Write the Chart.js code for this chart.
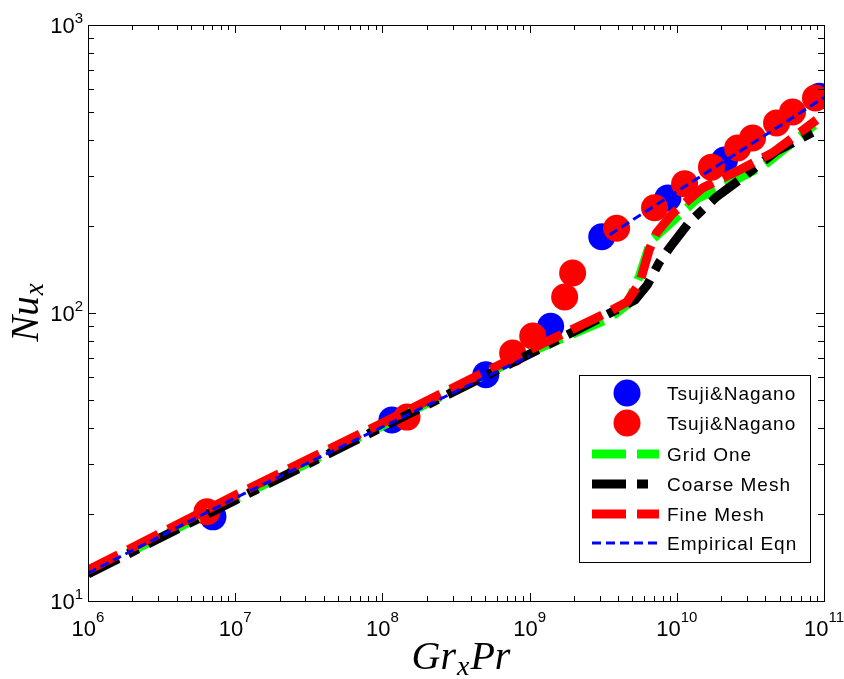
<!DOCTYPE html>
<html>
<head>
<meta charset="utf-8">
<script src="https://cdn.jsdelivr.net/npm/chart.js@4.4.1/dist/chart.umd.min.js"></script>
<style>
body{margin:0;background:#fff;}
#wrap{width:844px;height:679px;}
</style>
</head>
<body>
<div id="wrap"><canvas id="nuChart" width="844" height="679"></canvas></div>
<script>
// data
var expBlueX = [7.06e6, 1.16e8, 5.04e8, 1.39e9, 3.09e9, 8.7e9, 2.11e10, 9.3e10];
var expBlueY = [19.6, 42.5, 61, 90, 184, 251, 340, 566];

var expRedX = [6.43e6, 1.47e8, 7.67e8, 1.05e9, 1.73e9, 1.96e9, 3.9e9, 7.06e9, 1.13e10, 1.72e10, 2.59e10, 3.27e10, 4.76e10, 6.11e10, 8.75e10];
var expRedY = [20.4, 43.5, 72.6, 83.2, 113.7, 137.7, 197, 232, 281, 321, 374, 405, 457, 499, 558];

var gridOneX = [1e6, 1e7, 1e8, 1e9, 3.5e9, 4.6e9, 5.6e9, 6.7e9, 8.3e9, 1.38e10, 2.1e10, 3.94e10, 8.6e10];
var gridOneY = [12.5, 22.6, 40.6, 73, 96, 107, 135, 179, 197, 250, 276, 327, 450];

var coarseX = [1e6, 1e7, 1e8, 1e9, 3.8e9, 5.2e9, 6.3e9, 7.6e9, 8.9e9, 1.22e10, 1.86e10, 2.67e10, 4.76e10, 9e10];
var coarseY = [12.4, 22.4, 40.2, 72, 102, 111, 125, 150, 168, 207, 253, 290, 365, 432];

var fineX = [1e6, 1e7, 1e8, 1e9, 3.33e9, 4.56e9, 5.6e9, 6.5e9, 7.3e9, 9.4e9, 1.5e10, 2.67e10, 4.47e10, 8.9e10];
var fineY = [12.8, 23.3, 41.5, 74.5, 100, 109, 127, 166, 190, 222, 272, 314, 360, 468];

// empirical eqn: laminar part, break, turbulent part
var empX = [1e6, 1e7, 1e8, 1e9, 2e9, 3.5e9, 1e10, 1e11];
var empY = [12.5, 22.8, 40.2, 71, null, 187, 264, 560];

var xDecades = [6, 7, 8, 9, 10, 11];
var yDecades = [1, 2, 3];
var seriesNames = ["Tsuji&Nagano", "Tsuji&Nagano", "Grid One", "Coarse Mesh", "Fine Mesh", "Empirical Eqn"];

function toPoints(xs, ys) {
    var pts = [];
    for (var i = 0; i < xs.length; i++) {
        pts.push({x: xs[i], y: ys[i]});
    }
    return pts;
}

var FONT = "'Liberation Sans', Arial, sans-serif";
var SERIF = "'Liberation Serif', 'Times New Roman', serif";

// ticks, labels, box, titles, legend
var decoPlugin = {
    id: "deco",
    afterDraw: function (chart) {
        var ctx = chart.ctx;
        var a = chart.chartArea;
        var sx = chart.scales.x, sy = chart.scales.y;
        ctx.save();
        ctx.strokeStyle = "#000";
        ctx.lineWidth = 1;
        ctx.beginPath();
        var d, m, p, len;
        for (d = 6; d <= 10; d++) {
            for (m = 1; m <= 9; m++) {
                p = Math.round(sx.getPixelForValue(m * Math.pow(10, d))) + 0.5;
                len = m == 1 ? 8 : 5;
                ctx.moveTo(p, a.bottom); ctx.lineTo(p, a.bottom - len);
                ctx.moveTo(p, a.top); ctx.lineTo(p, a.top + len);
            }
        }
        for (d = 1; d <= 2; d++) {
            for (m = 1; m <= 9; m++) {
                p = Math.round(sy.getPixelForValue(m * Math.pow(10, d))) + 0.5;
                len = m == 1 ? 8 : 6;
                ctx.moveTo(a.left, p); ctx.lineTo(a.left + len, p);
                ctx.moveTo(a.right, p); ctx.lineTo(a.right - len, p);
            }
        }
        ctx.stroke();
        ctx.strokeRect(Math.round(a.left) + 0.5, Math.round(a.top) + 0.5, Math.round(a.right - a.left), Math.round(a.bottom - a.top));

        // tick labels 10^n
        ctx.fillStyle = "#000";
        ctx.textBaseline = "alphabetic";
        ctx.textAlign = "left";
        xDecades.forEach(function (n) {
            var px = sx.getPixelForValue(Math.pow(10, n));
            ctx.font = "22px " + FONT;
            var w1 = ctx.measureText("10").width;
            ctx.font = "15px " + FONT;
            var w2 = ctx.measureText(String(n)).width;
            var x0 = px - (w1 + w2) / 2;
            ctx.font = "22px " + FONT;
            ctx.fillText("10", x0, 636);
            ctx.font = "15px " + FONT;
            ctx.fillText(String(n), x0 + w1, 622);
        });
        yDecades.forEach(function (n) {
            var py = sy.getPixelForValue(Math.pow(10, n));
            ctx.font = "15px " + FONT;
            var w2 = ctx.measureText(String(n)).width;
            ctx.font = "22px " + FONT;
            var w1 = ctx.measureText("10").width;
            var x0 = 83 - w1 - w2;
            ctx.fillText("10", x0, py + 8);
            ctx.font = "15px " + FONT;
            ctx.fillText(String(n), x0 + w1, py - 2);
        });

        // axis titles
        ctx.font = "italic 40px " + SERIF;
        var gw = ctx.measureText("Gr").width;
        var pw = ctx.measureText("Pr").width;
        ctx.font = "italic 28px " + SERIF;
        var xw = ctx.measureText("x").width;
        var tx = 460 - (gw + xw + pw) / 2;
        ctx.font = "italic 40px " + SERIF;
        ctx.fillText("Gr", tx, 669);
        ctx.fillText("Pr", tx + gw + xw + 2, 669);
        ctx.font = "italic 28px " + SERIF;
        ctx.fillText("x", tx + gw + 1, 675);

        ctx.save();
        ctx.translate(38, 313);
        ctx.rotate(-Math.PI / 2);
        ctx.font = "italic 39px " + SERIF;
        var nw = ctx.measureText("Nu").width;
        ctx.font = "italic 27px " + SERIF;
        var xw2 = ctx.measureText("x").width;
        var ny = -(nw + xw2) / 2;
        ctx.font = "italic 39px " + SERIF;
        ctx.fillText("Nu", ny, 0);
        ctx.font = "italic 27px " + SERIF;
        ctx.fillText("x", ny + nw + 1, 5);
        ctx.restore();

        // legend box
        ctx.fillStyle = "#fff";
        ctx.fillRect(579, 375, 231, 187);
        ctx.strokeStyle = "#000";
        ctx.lineWidth = 1;
        ctx.strokeRect(579.5, 375.5, 231, 187);
        var rowY = [393, 423, 454, 484, 514, 543];
        chart.data.datasets.forEach(function (ds, i) {
            var y = rowY[i];
            if (ds.showLine) {
                ctx.save();
                ctx.strokeStyle = ds.borderColor;
                ctx.lineWidth = ds.borderWidth;
                ctx.setLineDash(ds.borderDash);
                ctx.lineCap = "butt";
                ctx.beginPath();
                ctx.moveTo(592, y);
                ctx.lineTo(659, y);
                ctx.stroke();
                ctx.restore();
            } else {
                ctx.fillStyle = ds.backgroundColor;
                ctx.beginPath();
                ctx.arc(627, y, 13.5, 0, Math.PI * 2);
                ctx.fill();
            }
            ctx.fillStyle = "#000";
            ctx.font = "19px " + FONT;
            ctx.letterSpacing = "1px";
            ctx.textBaseline = "middle";
            ctx.fillText(seriesNames[i], 667, y + 2);
            ctx.letterSpacing = "0px";
            ctx.textBaseline = "alphabetic";
        });
        ctx.restore();
    }
};

var whiteBg = {
    id: "whiteBg",
    beforeDraw: function (chart) {
        var ctx = chart.ctx;
        ctx.save();
        ctx.fillStyle = "#fff";
        ctx.fillRect(0, 0, chart.width, chart.height);
        ctx.restore();
    }
};

function lineSet(label, xs, ys, color, width, dash, order) {
    return {
        label: label,
        data: toPoints(xs, ys),
        showLine: true,
        borderColor: color,
        backgroundColor: color,
        borderWidth: width,
        borderDash: dash,
        borderCapStyle: "butt",
        borderJoinStyle: "miter",
        pointRadius: 0,
        tension: 0,
        spanGaps: false,
        clip: 0,
        order: order
    };
}

function dotSet(label, xs, ys, color, order) {
    return {
        label: label,
        data: toPoints(xs, ys),
        showLine: false,
        backgroundColor: color,
        borderColor: color,
        borderWidth: 0,
        pointRadius: 13.5,
        clip: 0,
        order: order
    };
}

var nuChart = new Chart(document.getElementById("nuChart").getContext("2d"), {
    type: "scatter",
    data: {
        datasets: [
            dotSet(seriesNames[0], expBlueX, expBlueY, "#0000ff", 6),
            dotSet(seriesNames[1], expRedX, expRedY, "#ff0000", 5),
            lineSet(seriesNames[2], gridOneX, gridOneY, "#00ff00", 9, [34, 11], 4),
            lineSet(seriesNames[3], coarseX, coarseY, "#000000", 9, [34, 11, 11, 11], 3),
            lineSet(seriesNames[4], fineX, fineY, "#ff0000", 9, [34, 11], 2),
            lineSet(seriesNames[5], empX, empY, "#0000ff", 3, [9, 5], 1)
        ]
    },
    plugins: [whiteBg, decoPlugin],
    options: {
        responsive: false,
        animation: false,
        devicePixelRatio: 1,
        events: [],
        layout: {padding: {left: 88, right: 20, top: 25, bottom: 78}},
        plugins: {legend: {display: false}, tooltip: {enabled: false}},
        scales: {
            x: {type: "logarithmic", min: 1e6, max: 1e11, display: false},
            y: {type: "logarithmic", min: 10, max: 1000, display: false}
        }
    }
});
</script>
</body>
</html>
